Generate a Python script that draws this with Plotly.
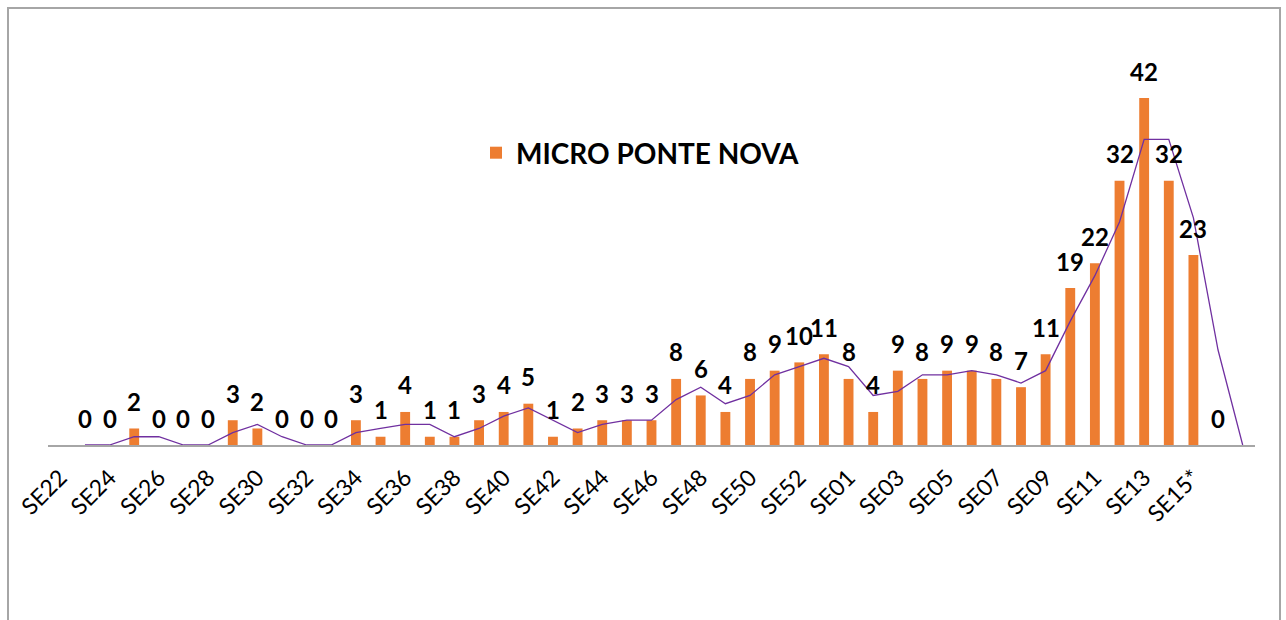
import plotly.graph_objects as go

# Epidemiological weeks (categories)
weeks = ["SE22", "SE23", "SE24", "SE25", "SE26", "SE27", "SE28", "SE29", "SE30", "SE31",
         "SE32", "SE33", "SE34", "SE35", "SE36", "SE37", "SE38", "SE39", "SE40", "SE41",
         "SE42", "SE43", "SE44", "SE45", "SE46", "SE47", "SE48", "SE49", "SE50", "SE51",
         "SE52", "SE53", "SE01", "SE02", "SE03", "SE04", "SE05", "SE06", "SE07", "SE08",
         "SE09", "SE10", "SE11", "SE12", "SE13", "SE14", "SE15*", "SE16*", "SE17*"]

# Weekly counts (None = no value)
cases = [None, 0, 0, 2, 0, 0, 0, 3, 2, 0,
         0, 0, 3, 1, 4, 1, 1, 3, 4, 5,
         1, 2, 3, 3, 3, 8, 6, 4, 8, 9,
         10, 11, 8, 4, 9, 8, 9, 9, 8, 7,
         11, 19, 22, 32, 42, 32, 23, 0, None]

# 2-period moving average trend line (starts at second category)
trend_weeks = weeks[1:]
trend = [0, 0, 1, 1, 0, 0, 1.5, 2.5, 1, 0,
         0, 1.5, 2, 2.5, 2.5, 1, 2, 3.5, 4.5, 3,
         1.5, 2.5, 3, 3, 5.5, 7, 5, 6, 8.5, 9.5,
         10.5, 9.5, 6, 6.5, 8.5, 8.5, 9, 8.5, 7.5, 9,
         15, 20.5, 27, 37, 37, 27.5, 11.5, 0]

series_name = "MICRO PONTE NOVA"
tick_labels = weeks[0:47:2]

FONT = "Lato"

fig = go.Figure()
fig.add_trace(go.Bar(
    x=weeks, y=cases, name="<b>" + series_name + "</b>",
    marker=dict(color="#ED7D31", line=dict(width=0)),
    showlegend=True,
))
fig.add_trace(go.Scatter(
    x=trend_weeks, y=trend, mode="lines", name="trend",
    line=dict(color="#7030A0", width=1.3), showlegend=False,
))

for w, v in zip(weeks, cases):
    if v is None:
        continue
    fig.add_annotation(
        x=w, y=v, text=f"<b>{v}</b>", showarrow=False,
        yanchor="middle", yshift=27,
        font=dict(family=FONT, size=24, color="#000000"),
    )

L, R, T, B = 48, 31, 32, 175
W, H = 1286, 620
pw = W - L - R
ph = H - T - B

def px_x(X):
    return (X - L) / pw

def px_y(Y):
    return (H - B - Y) / ph

fig.add_shape(type="rect", xref="paper", yref="paper",
              x0=px_x(8), x1=px_x(1280), y0=px_y(640), y1=px_y(8),
              line=dict(color="#A6A6A6", width=2), fillcolor="rgba(0,0,0,0)",
              layer="below")

fig.update_layout(
    width=W, height=H,
    margin=dict(l=L, r=R, t=T, b=B, pad=0),
    paper_bgcolor="white", plot_bgcolor="white",
    bargap=0.6,
    font=dict(family=FONT, color="#000000"),
    legend=dict(
        x=px_x(476), y=px_y(153), xanchor="left", yanchor="middle",
        font=dict(family=FONT, size=28, color="#000000"),
        bgcolor="rgba(0,0,0,0)", itemsizing="constant",
    ),
    xaxis=dict(
        type="category", categoryorder="array", categoryarray=weeks,
        range=[-0.5, len(weeks) - 0.5],
        tickmode="array", tickvals=tick_labels, ticktext=tick_labels,
        tickangle=-45, tickfont=dict(family=FONT, size=23, color="#000000"),
        showline=True, linecolor="#A6A6A6", linewidth=2,
        showgrid=False, ticks="", ticklabelstandoff=8,
        zeroline=False,
    ),
    yaxis=dict(
        range=[0, 50], showticklabels=False, showgrid=False,
        showline=False, zeroline=False, ticks="",
    ),
)

fig.write_html("out.html", config={"displayModeBar": False},
               post_script="document.body.style.margin='0';document.body.style.overflow='hidden';")
